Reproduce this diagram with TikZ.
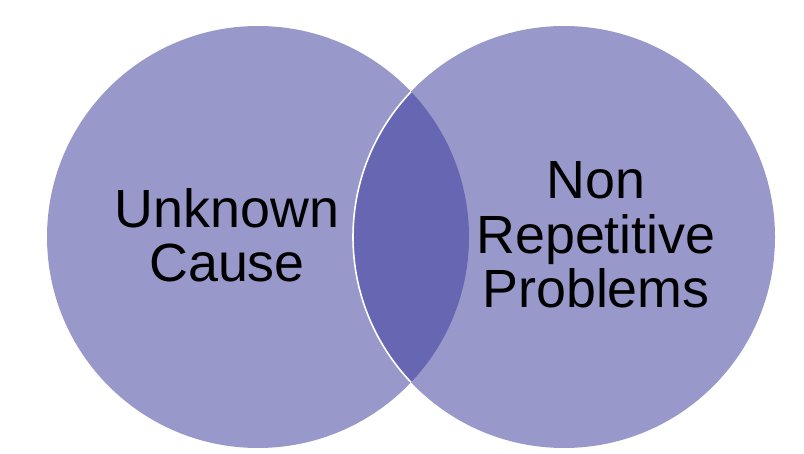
\documentclass[tikz,border=0pt]{standalone}
\usepackage{fontspec}
\setmainfont{Liberation Sans}
\usepackage{tikz}

\definecolor{vennlight}{RGB}{152,152,202}
\definecolor{venndark}{RGB}{102,102,178}

\begin{document}
\begin{tikzpicture}[x=1bp,y=-1bp,line cap=round,line join=round,
  venntext/.style={align=center,inner sep=0pt,anchor=base,
    font=\fontsize{54}{55}\selectfont}]

% parâmetros dos círculos
\def\r{211}     % raio
\def\xa{258}    % centro esquerdo
\def\xb{564}    % centro direito
\def\yc{237}    % altura dos centros

\useasboundingbox (0,0) rectangle (804,454);

%---------------------------
% círculos
%---------------------------
\fill[vennlight] (\xa,\yc) circle[radius=\r];
\fill[vennlight] (\xb,\yc) circle[radius=\r];

%---------------------------
% interseção
%---------------------------
\begin{scope}
\clip (\xa,\yc) circle[radius=\r];
\fill[venndark] (\xb,\yc) circle[radius=\r];
\draw[white,line width=1.6bp] (\xb,\yc) circle[radius=\r];
\end{scope}

%---------------------------
% rótulos (base = última linha)
%---------------------------
\node[venntext] (unknown) at (227,282) {Unknown\\Cause};
\node[venntext] (nonrep) at (596,308) {Non\\Repetitive\\Problems};

\end{tikzpicture}
\end{document}
